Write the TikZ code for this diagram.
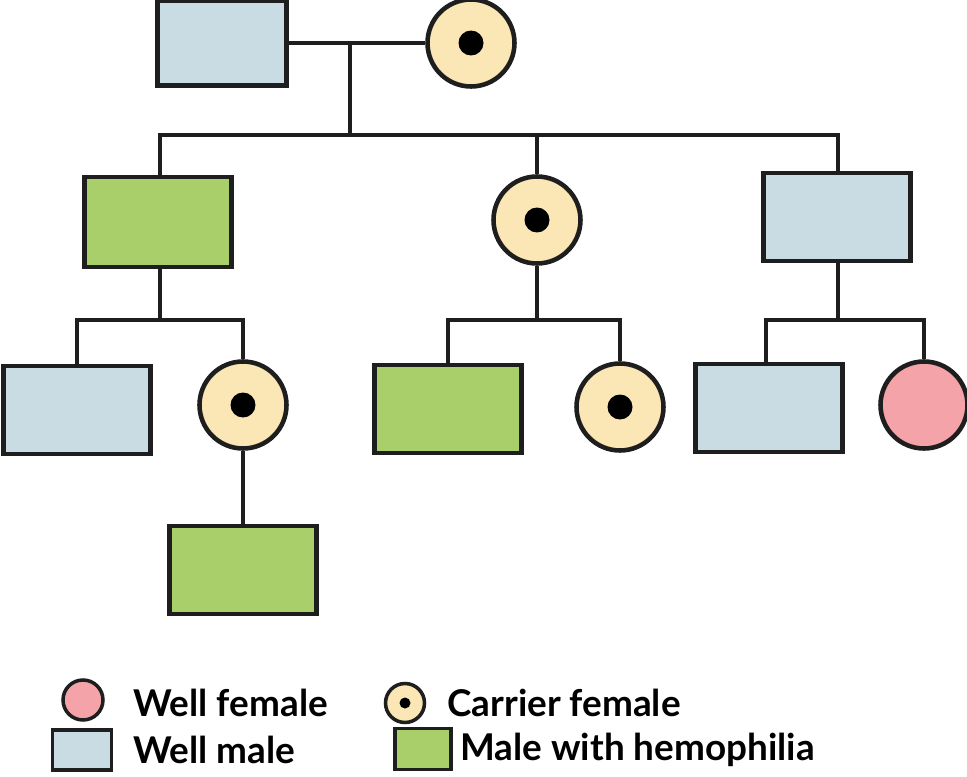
\documentclass[tikz,border=0pt]{standalone}
\usepackage{fontspec}
\setmainfont{Lato}
\definecolor{wellmale}{HTML}{C9DCE3}
\definecolor{hemo}{HTML}{A8CF6A}
\definecolor{carrierfill}{HTML}{FBE6B5}
\definecolor{wellfem}{HTML}{F4A3A8}
\definecolor{ink}{HTML}{1E1E1E}
\tikzset{
  base/.style={draw=ink, line width=2.6pt, inner sep=0pt},
  malebox/.style={base, rectangle, minimum width=2.95cm, minimum height=1.76cm},
  wm/.style={malebox, fill=wellmale},
  hm/.style={malebox, fill=hemo},
  femcirc/.style={base, circle, minimum size=1.74cm},
  cf/.style={femcirc, fill=carrierfill, path picture={\fill[black] (path picture bounding box.center) circle (0.25cm);}},
  wf/.style={femcirc, fill=wellfem},
  link/.style={draw=ink, line width=2.8pt},
  legtext/.style={anchor=west, inner sep=0pt, font=\fontsize{21}{24}\selectfont\bfseries},
}
\begin{document}
\begin{tikzpicture}[x=0.02cm, y=-0.02cm]
\useasboundingbox[fill=white] (0,0) rectangle (967,777);
% generation 1
\node[wm, minimum width=2.58cm, minimum height=1.7cm] (g1m) at (222,43) {};
\node[cf] (g1f) at (471,43) {};
% generation 2
\node[hm, minimum height=1.8cm] (g2a) at (158,222) {};
\node[cf] (g2b) at (537,220) {};
\node[wm] (g2c) at (837,217) {};
% generation 3
\node[wm] (g3a) at (77,410) {};
\node[cf] (g3b) at (243,405) {};
\node[hm] (g3c) at (448,409) {};
\node[cf] (g3d) at (620,407) {};
\node[wm] (g3e) at (769,408) {};
\node[wf] (g3f) at (924,405) {};
% generation 4
\node[hm] (g4a) at (243,570) {};
% junction coordinates
\coordinate (mar) at (350,43);
\coordinate (sib1) at (350,135);
\coordinate (sibA) at (160,320);
\coordinate (sibB) at (537,320);
\coordinate (sibC) at (838,320);
\coordinate (dropA) at (160,135);
\coordinate (dropE) at (766,320);
% connectors
\draw[link] (g1m.east) -- (g1f.west);
\draw[link] (mar) -- (sib1);
\draw[link] (g2a.north -| dropA) |- (sib1) -| (g2c.north -| sibC);
\draw[link] (g2b.north) -- (g2b.north |- sib1);
\draw[link] (g2a.south -| sibA) -- (sibA);
\draw[link] (g3a.north) |- (sibA) -| (g3b.north);
\draw[link] (g2b.south) -- (sibB);
\draw[link] (g3c.north) |- (sibB) -| (g3d.north);
\draw[link] (g2c.south -| sibC) -- (sibC);
\draw[link] (g3e.north -| dropE) |- (sibC) -| (g3f.north);
\draw[link] (g3b.south) -- (g4a.north);
% legend
\node[base, circle, fill=wellfem, minimum width=0.8cm, minimum height=0.8cm, line width=2pt] (lwf) at (83,700) {};
\node[legtext] (twf) at (133,703) {Well female};
\node[base, circle, fill=carrierfill, minimum size=0.78cm, line width=2pt, path picture={\fill[black] (path picture bounding box.center) circle (0.11cm);}] (lcf) at (405,703) {};
\node[legtext] (tcf) at (447,703) {Carrier female};
\node[base, rectangle, fill=wellmale, minimum width=1.18cm, minimum height=0.8cm, line width=2pt] (lwm) at (82,750) {};
\node[legtext] (twm) at (133,750) {Well male};
\node[base, rectangle, fill=hemo, minimum width=1.12cm, minimum height=0.82cm, line width=2pt] (lhm) at (423,749) {};
\node[legtext] (thm) at (460,750) {Male with hemophilia};
\end{tikzpicture}
\end{document}
